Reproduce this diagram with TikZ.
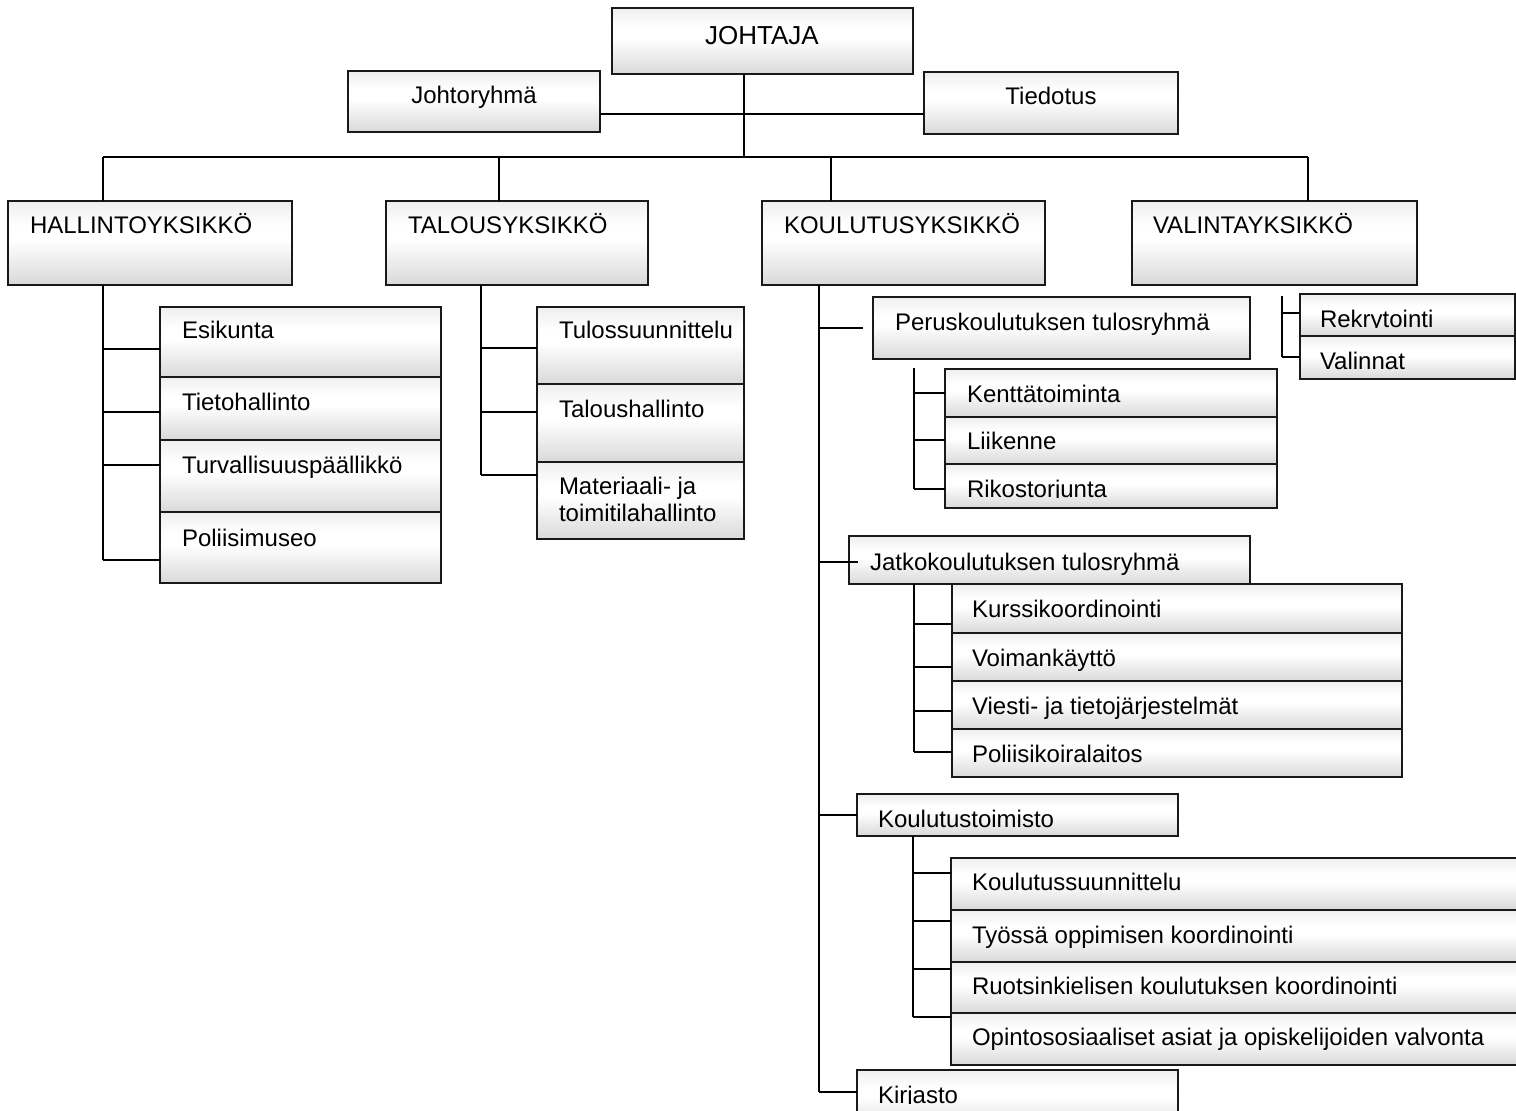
\documentclass[tikz,border=0pt]{standalone}
\usepackage{fontspec}
\setmainfont{Liberation Sans}
\pgfdeclareverticalshading{boxshade}{100bp}{color(0bp)=(gray!30); color(25bp)=(gray!30); color(52bp)=(white); color(60bp)=(white); color(75bp)=(gray!13); color(100bp)=(gray!13)}
\tikzset{
  box/.style={draw=black!90, line width=2.4pt, shade, shading=boxshade, rectangle, inner sep=0pt, outer sep=0pt, anchor=north west},
  lbl/.style={inner sep=0pt, outer sep=0pt, anchor=base west, font=\fontsize{24}{26.5}\selectfont, align=left},
  clbl/.style={lbl, anchor=base},
  conn/.style={line width=2pt, black},
}
% box: name, x1, y1, x2, y2
\newcommand\bx[5]{\node[box, minimum width={(#4)-(#2)}, minimum height={(#5)-(#3)}] (#1) at (#2,#3) {};}
% label: name, x, baseline, text
\newcommand\tx[4]{\node[lbl] (#1) at (#2,#3) {#4};}
% clipped label: name, x, baseline, text, right edge
\newcommand\ctx[5]{\begin{scope}
  \clip (#2-10,#3-40) rectangle (#5,#3);
  \node[lbl] (#1) at (#2,#3) {#4};
\end{scope}}
% branch: spine coordinate, y, target node
\newcommand\br[3]{\draw[conn] (#1 |- 0,#2) -- (#3.west |- 0,#2);}
\begin{document}
\begin{tikzpicture}[x=1pt,y=-1pt]
\useasboundingbox (0,0) rectangle (1516,1111);
\clip (0,0) rectangle (1516,1111);

% ---- boxes ----
\bx{joh}{612}{8}{913}{74}
\bx{jry}{348}{71}{600}{132}
\bx{tie}{924}{72}{1178}{134}
\bx{hal}{8}{201}{292}{285}
\bx{tal}{386}{201}{648}{285}
\bx{kou}{762}{201}{1045}{285}
\bx{val}{1132}{201}{1417}{285}
\bx{esi}{160}{307}{441}{377}
\bx{tih}{160}{377}{441}{440}
\bx{tur}{160}{440}{441}{512}
\bx{pol}{160}{512}{441}{583}
\bx{tus}{537}{307}{744}{384}
\bx{thl}{537}{384}{744}{462}
\bx{mat}{537}{462}{744}{539}
\bx{per}{873}{297}{1250}{359}
\bx{ken}{945}{369}{1277}{417}
\bx{lii}{945}{417}{1277}{464}
\bx{rik}{945}{464}{1277}{508}
\bx{jat}{849}{536}{1250}{584}
\bx{kur}{952}{584}{1402}{633}
\bx{voi}{952}{633}{1402}{681}
\bx{vie}{952}{681}{1402}{729}
\bx{pko}{952}{729}{1402}{777}
\bx{kto}{857}{794}{1178}{836}
\bx{ksu}{951}{858}{1530}{910}
\bx{tyo}{951}{910}{1530}{962}
\bx{ruo}{951}{962}{1530}{1013}
\bx{opi}{951}{1013}{1530}{1065}
\bx{kir}{857}{1070}{1178}{1130}
\bx{rek}{1300}{294}{1515}{336}
\bx{vln}{1300}{336}{1515}{379}

% ---- labels ----
\node[clbl, font=\fontsize{26}{28}\selectfont] (tjoh) at (762,44) {JOHTAJA};
\node[clbl] (tjry) at (474,103) {Johtoryhmä};
\node[clbl] (ttie) at (1051,104) {Tiedotus};
\tx{thal}{30}{233}{HALLINTOYKSIKKÖ}
\tx{ttal}{408}{233}{TALOUSYKSIKKÖ}
\tx{tkou}{784}{233}{KOULUTUSYKSIKKÖ}
\tx{tval}{1153}{233}{VALINTAYKSIKKÖ}
\tx{tesi}{182}{338}{Esikunta}
\tx{ttih}{182}{410}{Tietohallinto}
\tx{ttur}{182}{473}{Turvallisuuspäällikkö}
\tx{tpol}{182}{546}{Poliisimuseo}
\tx{ttus}{559}{338}{Tulossuunnittelu}
\tx{tthl}{559}{417}{Taloushallinto}
\tx{tmat}{559}{521}{Materiaali- ja\\toimitilahallinto}
\tx{tper}{895}{330}{Peruskoulutuksen tulosryhmä}
\tx{tken}{967}{402}{Kenttätoiminta}
\tx{tlii}{967}{449}{Liikenne}
\ctx{trik}{967}{497}{Rikostorjunta}{1277}
\tx{tjat}{870}{570}{Jatkokoulutuksen tulosryhmä}
\tx{tkur}{972}{617}{Kurssikoordinointi}
\tx{tvoi}{972}{666}{Voimankäyttö}
\tx{tvie}{972}{714}{Viesti- ja tietojärjestelmät}
\tx{tpko}{972}{762}{Poliisikoiralaitos}
\ctx{tkto}{878}{827}{Koulutustoimisto}{1178}
\tx{tksu}{972}{890}{Koulutussuunnittelu}
\tx{ttyo}{972}{943}{Työssä oppimisen koordinointi}
\tx{truo}{972}{994}{Ruotsinkielisen koulutuksen koordinointi}
\tx{topi}{972}{1045}{Opintososiaaliset asiat ja opiskelijoiden valvonta}
\ctx{tkir}{878}{1103}{Kirjasto}{1178}
\ctx{trek}{1320}{327}{Rekrytointi}{1515}
\ctx{tvln}{1320}{369}{Valinnat}{1515}

% ---- connectors ----
\coordinate (bus) at (744,157);
\coordinate (side) at (744,114);
\coordinate (dh) at (103,157);
\coordinate (dt) at (499,157);
\coordinate (dk) at (831,157);
\coordinate (dv) at (1308,157);
\draw[conn] (joh.south -| bus) -- (bus);
\draw[conn] (jry.east |- side) -- (tie.west |- side);
\draw[conn] (dh) -- (dv);
\draw[conn] (dh) -- (dh |- hal.north);
\draw[conn] (dt) -- (dt |- tal.north);
\draw[conn] (dk) -- (dk |- kou.north);
\draw[conn] (dv) -- (dv |- val.north);

% Hallintoyksikkö
\coordinate (hs) at (103,560);
\draw[conn] (hal.south -| hs) -- (hs);
\br{hs}{349}{esi}\br{hs}{412}{tih}\br{hs}{465}{tur}\br{hs}{560}{pol}

% Talousyksikkö
\coordinate (ts) at (481,475);
\draw[conn] (tal.south -| ts) -- (ts);
\br{ts}{348}{tus}\br{ts}{412}{thl}\br{ts}{475}{mat}

% Koulutusyksikkö
\coordinate (ks) at (819,1092);
\draw[conn] (kou.south -| ks) -- (ks);
\draw[conn] (ks |- 0,328) -- ++(44,0);
\draw[conn] (ks |- 0,562) -- ++(39,0);
\br{ks}{815}{kto}\br{ks}{1092}{kir}

\coordinate (ps) at (914,489);
\draw[conn] (ps |- 0,368) -- (ps);
\br{ps}{393}{ken}\br{ps}{440}{lii}\br{ps}{489}{rik}

\coordinate (js) at (914,752);
\draw[conn] (jat.south -| js) -- (js);
\br{js}{624}{kur}\br{js}{667}{voi}\br{js}{711}{vie}\br{js}{752}{pko}

\coordinate (os) at (913,1017);
\draw[conn] (kto.south -| os) -- (os);
\br{os}{873}{ksu}\br{os}{921}{tyo}\br{os}{969}{ruo}\br{os}{1017}{opi}

% Valintayksikkö
\coordinate (vs) at (1282,357);
\draw[conn] (vs |- 0,296) -- (vs);
\br{vs}{313}{rek}\br{vs}{357}{vln}
\end{tikzpicture}
\end{document}
